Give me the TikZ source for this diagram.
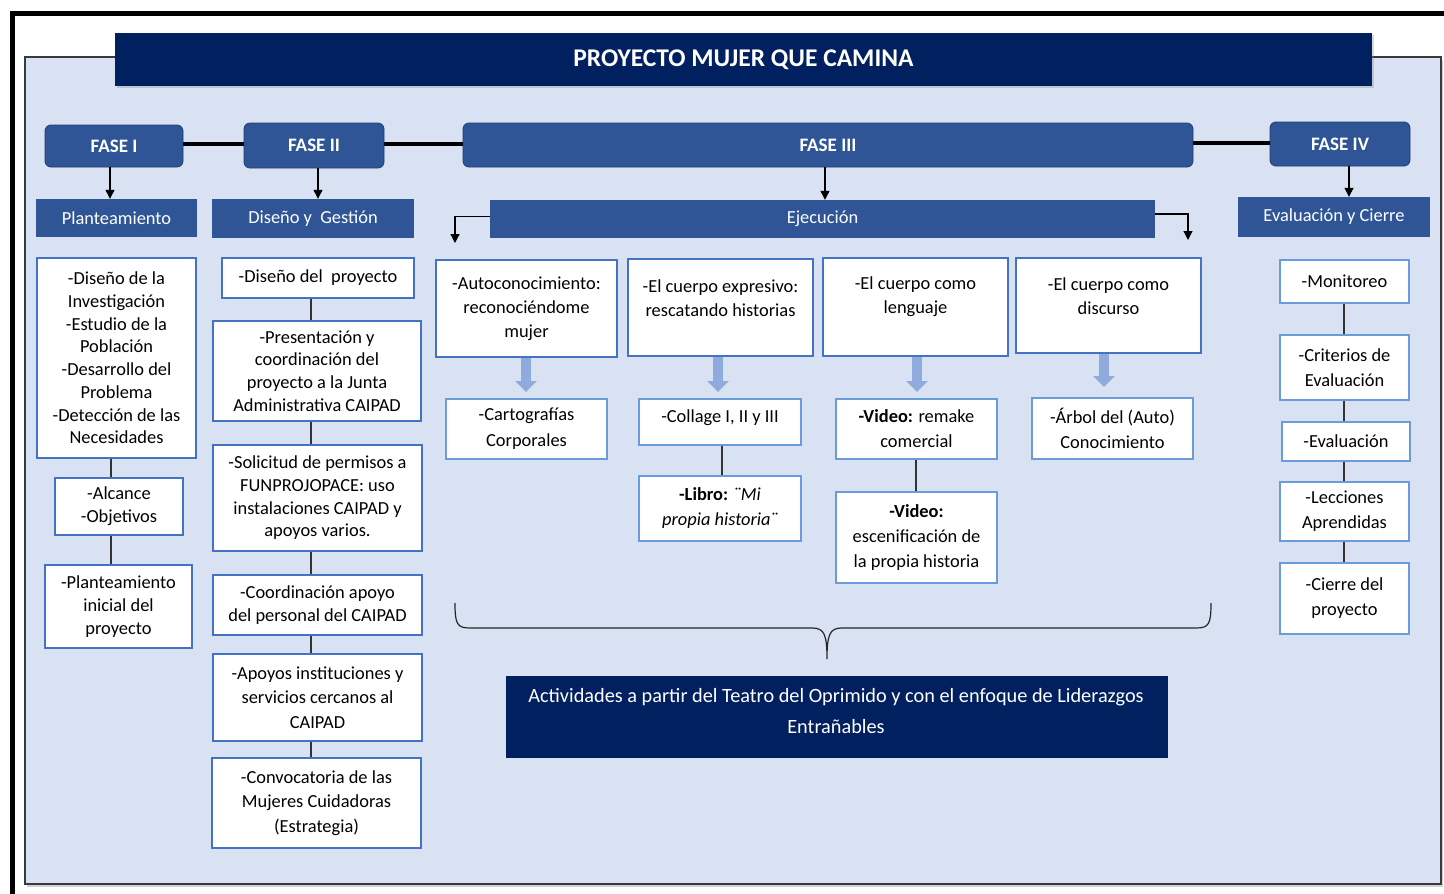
\documentclass[tikz,border=0pt]{standalone}
\usepackage{fontspec}
\setmainfont{Carlito}
\usetikzlibrary{arrows.meta,shadows}
\definecolor{panel}{HTML}{D9E2F3}
\definecolor{navy}{HTML}{002060}
\definecolor{fase}{HTML}{2F5597}
\definecolor{fasebd}{HTML}{1F3C74}
\definecolor{bd}{HTML}{4472C4}
\definecolor{bdl}{HTML}{6A9BDB}
\definecolor{barrowc}{HTML}{8FAADC}
\definecolor{framec}{HTML}{3A3A3A}
\tikzset{
 base/.style={inner sep=0pt, align=center, font=\fontsize{18.4}{22.7}\selectfont},
 ls/.style={font=\fontsize{18.4}{#1}\selectfont},
 wbox/.style={base, draw=bd, fill=white, line width=1.3pt},
 ebox/.style={base, draw=bd, fill=white, line width=1.3pt, ls=24},
 lbox/.style={base, draw=bdl, fill=white, line width=1.3pt, ls=25},
 fasebox/.style={base, draw=fasebd, fill=fase, rounded corners=6pt, line width=0.8pt, text=white, font=\bfseries\fontsize{19}{22}\selectfont},
 subhead/.style={base, fill=fase, text=white},
 titlebox/.style={base, fill=navy, text=white, font=\bfseries\fontsize{25.5}{28}\selectfont, drop shadow={opacity=0.3}},
 navybox/.style={base, fill=navy},
 navytext/.style={base, text=white, font=\fontsize{20.3}{31}\selectfont},
 txt/.style={base},
 conn/.style={draw=black!80, line width=1.3pt},
 arr/.style={draw=black, line width=1.2pt, -{Triangle[width=9pt,length=9pt]}},
 link/.style={draw=black, line width=4pt},
 barrow/.style={draw=barrowc, line width=10pt, -{Triangle[width=21pt,length=11pt]}},
}
\newcommand\mybox[7][wbox]{\node[#1, minimum width={#5-#3}, minimum height={#6-#4}] (#2) at ({(#3+#5)/2},{(#4+#6)/2}) {#7};}
\begin{document}
\begin{tikzpicture}[x=1pt,y=-1pt]
\useasboundingbox (0,0) rectangle (1444,894);
\fill[white] (0,0) rectangle (1444,894);
% outer frame
\draw[line width=5pt] (12.5,894) -- (12.5,13.5) -- (1444,13.5);
% panel
\filldraw[fill=panel, draw=framec, line width=1.5pt, drop shadow={opacity=0.35, shadow xshift=2pt, shadow yshift=-3pt}] (25,57) rectangle (1441,884);
% title
\mybox[titlebox]{title}{115}{33}{1372}{86}{PROYECTO MUJER QUE CAMINA}
% phases
\mybox[fasebox]{f1}{45}{125}{183}{167}{FASE I}
\mybox[fasebox]{f2}{244}{123}{384}{168}{FASE II}
\mybox[fasebox]{f3}{463}{123}{1193}{167}{FASE III}
\mybox[fasebox]{f4}{1270}{122}{1410}{166}{FASE IV}
\draw[link] ([yshift=2pt]f1.east) -- ([yshift=2pt]f1.east -| f2.west);
\draw[link] ([yshift=2pt]f2.east) -- ([yshift=2pt]f2.east -| f3.west);
\draw[link] ([yshift=2pt]f3.east) -- ([yshift=2pt]f3.east -| f4.west);
% sub headers
\mybox[subhead]{s1}{36}{199}{197}{237}{Planteamiento}
\mybox[subhead]{s2}{212}{199}{414}{238}{Diseño y~ Gestión}
\mybox[subhead]{s3}{490}{200}{1155}{238}{Ejecución}
\mybox[subhead]{s4}{1238}{197}{1430}{237}{Evaluación y Cierre}
\coordinate (c1) at (110,0);
\coordinate (c2) at (318,0);
\coordinate (c3) at (825,0);
\coordinate (c4) at (1349,0);
\draw[arr] (f1.south -| c1) -- (s1.north -| c1);
\draw[arr] (f2.south -| c2) -- (s2.north -| c2);
\draw[arr] (f3.south -| c3) -- (s3.north -| c3);
\draw[arr] (f4.south -| c4) -- (s4.north -| c4);
\coordinate (eL) at (455,243);
\coordinate (eR) at (1188,240);
\draw[arr] ([yshift=2.5pt]s3.west) -| (eL);
\draw[arr] ([yshift=5pt]s3.east) -| (eR);
% column 1
\mybox{l1}{37}{258}{196}{458}{-Diseño de la\\Investigación\\-Estudio de la\\Población\\-Desarrollo del\\Problema\\-Detección de las\\Necesidades}
\mybox{l2}{55}{478}{183}{535}{-Alcance\\-Objetivos}
\mybox{l3}{45}{565}{192}{648}{-Planteamiento\\inicial del\\proyecto}
\coordinate (cl) at (111,0);
\draw[conn] (l1.south -| cl) -- (l2.north -| cl);
\draw[conn] (l2.south -| cl) -- (l3.north -| cl);
% column 2
\mybox{d1}{222}{258}{414}{298}{-Diseño del~ proyecto}
\mybox{d2}{213}{321}{421}{421}{-Presentación y\\coordinación del\\proyecto a la Junta\\Administrativa CAIPAD}
\mybox{d3}{213}{445}{422}{551}{-Solicitud de permisos a\\FUNPROJOPACE: uso\\instalaciones CAIPAD y\\apoyos varios.}
\mybox{d4}{213}{575}{422}{635}{-Coordinación apoyo\\del personal del CAIPAD}
\mybox[wbox,ls=24.5]{d5}{213}{654}{422}{741}{-Apoyos instituciones y\\servicios cercanos al\\CAIPAD}
\mybox[wbox,ls=24.5]{d6}{212}{758}{421}{848}{-Convocatoria de las\\Mujeres Cuidadoras\\(Estrategia)}
\coordinate (cd) at (311,0);
\draw[conn] (d1.south -| cd) -- (d2.north -| cd);
\draw[conn] (d2.south -| cd) -- (d3.north -| cd);
\draw[conn] (d3.south -| cd) -- (d4.north -| cd);
\draw[conn] (d4.south -| cd) -- (d5.north -| cd);
\draw[conn] (d5.south -| cd) -- (d6.north -| cd);
% Ejecucion top boxes
\mybox[ebox]{a1}{436}{260}{617}{357}{-Autoconocimiento:\\reconociéndome\\mujer}
\mybox[ebox]{a2}{628}{259}{813}{356}{}
\mybox[ebox]{a3}{823}{258}{1008}{356}{}
\mybox[ebox]{a4}{1016}{258}{1201}{353}{}
\node[txt,ls=24] (a2t) at (720.5,298) {-El cuerpo expresivo:\\rescatando historias};
\node[txt,ls=24] (a3t) at (915.5,296.5) {-El cuerpo como\\lenguaje};
\node[txt,ls=24] (a4t) at (1108.5,296.5) {-El cuerpo como\\discurso};
\coordinate (ba1) at (526,392);
\coordinate (ba2) at (718,392);
\coordinate (ba3) at (917,392);
\coordinate (ba4) at (1104,387);
\draw[barrow] (a1.south -| ba1) -- (ba1);
\draw[barrow] (a2.south -| ba2) -- (ba2);
\draw[barrow] (a3.south -| ba3) -- (ba3);
\draw[barrow] (a4.south -| ba4) -- (ba4);
% Ejecucion second row
\mybox[lbox,ls=26]{b1}{446}{399}{607}{459}{-Cartografías\\Corporales}
\mybox[lbox]{b2}{639}{399}{801}{445}{}
\node[txt] (b2t) at (720,418) {-Collage I, II y III};
\mybox[lbox]{b2b}{639}{476}{801}{541}{\textbf{-Libro:} \textit{¨Mi}\\\textit{propia historia¨}}
\mybox[lbox]{b3}{836}{399}{997}{459}{\textbf{-Video:} remake\\comercial}
\mybox[lbox]{b3b}{836}{492}{997}{583}{\textbf{-Video:}\\escenificación de\\la propia historia}
\mybox[lbox]{b4}{1032}{398}{1193}{459}{-Árbol del (Auto)\\Conocimiento}
\coordinate (cb2) at (722,0);
\coordinate (cb3) at (916,0);
\draw[conn] (b2.south -| cb2) -- (b2b.north -| cb2);
\draw[conn] (b3.south -| cb3) -- (b3b.north -| cb3);
% right column
\mybox[lbox]{r1}{1280}{260}{1409}{303}{-Monitoreo}
\mybox[lbox]{r2}{1280}{335}{1409}{400}{-Criterios de\\Evaluación}
\mybox[lbox]{r3}{1282}{422}{1410}{461}{-Evaluación}
\mybox[lbox]{r4}{1280}{482}{1409}{541}{-Lecciones\\Aprendidas}
\mybox[lbox]{r5}{1280}{563}{1409}{634}{-Cierre del\\proyecto}
\coordinate (cr) at (1344,0);
\draw[conn] (r1.south -| cr) -- (r2.north -| cr);
\draw[conn] (r2.south -| cr) -- (r3.north -| cr);
\draw[conn] (r3.south -| cr) -- (r4.north -| cr);
\draw[conn] (r4.south -| cr) -- (r5.north -| cr);
% brace
\draw[line width=1.2pt, black!85] (455,603) .. controls (455,624) and (457,628) .. (470,628) -- (812,628) .. controls (824,628) and (827,634) .. (827,659) .. controls (827,634) and (830,628) .. (842,628) -- (1196,628) .. controls (1209,628) and (1211,624) .. (1211,603);
% bottom box
\mybox[navybox]{act}{506}{676}{1168}{758}{}
\node[navytext] (actt) at (836,711.5) {Actividades a partir del Teatro del Oprimido y con el enfoque de Liderazgos\\Entrañables};
\end{tikzpicture}
\end{document}
